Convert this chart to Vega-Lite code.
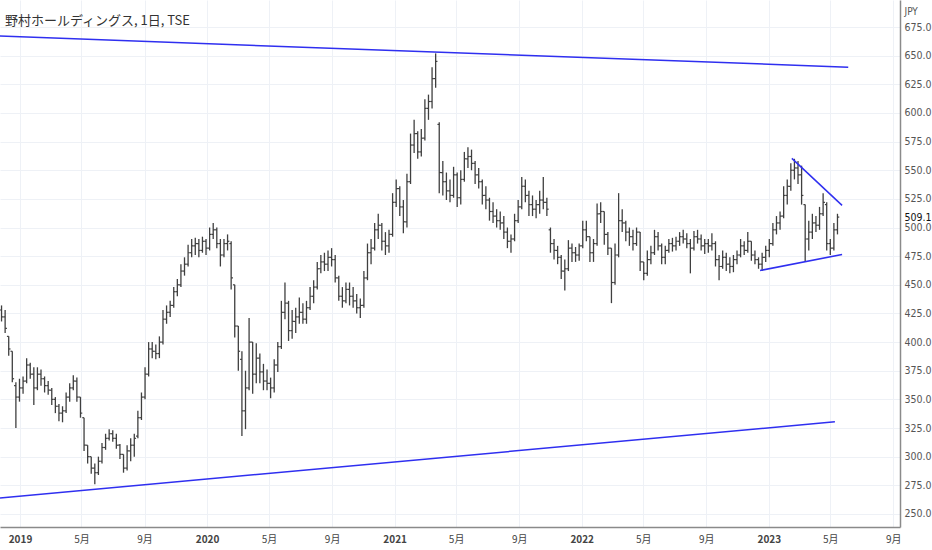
{
  "$schema": "https://vega.github.io/schema/vega-lite/v6.json",
  "description": "野村ホールディングス 日足 (TSE) with trend lines",
  "width": 900,
  "height": 527,
  "autosize": {"type": "none"},
  "padding": {"left": 0, "top": 0, "right": 32, "bottom": 23},
  "background": "white",
  "config": {"view": {"stroke": null}},
  "title": {
    "text": "野村ホールディングス, 1日, TSE",
    "anchor": "start",
    "frame": "group",
    "offset": -38,
    "dx": 5,
    "baseline": "alphabetic",
    "font": "Noto Sans CJK JP",
    "fontSize": 13,
    "fontWeight": "normal",
    "color": "#333333"
  },
  "resolve": {"scale": {"x": "shared", "y": "shared"}, "axis": {"x": "independent", "y": "independent"}},
  "datasets": {
    "px": [
      {"d":"2018-11-26","o":428,"h":432,"l":418,"c":422},
      {"d":"2018-12-03","o":422,"h":428,"l":408,"c":412},
      {"d":"2018-12-10","o":405,"h":405,"l":388,"c":394},
      {"d":"2018-12-17","o":392,"h":392,"l":365,"c":368},
      {"d":"2018-12-24","o":362,"h":365,"l":325,"c":352},
      {"d":"2018-12-31","o":352,"h":368,"l":348,"c":360},
      {"d":"2019-01-07","o":360,"h":370,"l":355,"c":366},
      {"d":"2019-01-14","o":366,"h":386,"l":364,"c":380},
      {"d":"2019-01-21","o":380,"h":382,"l":368,"c":372},
      {"d":"2019-01-28","o":372,"h":378,"l":345,"c":360},
      {"d":"2019-02-04","o":360,"h":378,"l":358,"c":372},
      {"d":"2019-02-11","o":372,"h":376,"l":362,"c":368},
      {"d":"2019-02-18","o":368,"h":370,"l":356,"c":362},
      {"d":"2019-02-25","o":362,"h":366,"l":354,"c":358},
      {"d":"2019-03-04","o":358,"h":360,"l":345,"c":350},
      {"d":"2019-03-11","o":350,"h":352,"l":338,"c":344},
      {"d":"2019-03-18","o":344,"h":346,"l":331,"c":338},
      {"d":"2019-03-25","o":338,"h":344,"l":330,"c":340},
      {"d":"2019-04-01","o":340,"h":356,"l":338,"c":352},
      {"d":"2019-04-08","o":352,"h":364,"l":348,"c":360},
      {"d":"2019-04-15","o":360,"h":371,"l":358,"c":366},
      {"d":"2019-04-22","o":366,"h":369,"l":348,"c":352},
      {"d":"2019-04-29","o":352,"h":352,"l":334,"c":338},
      {"d":"2019-05-06","o":334,"h":334,"l":305,"c":310},
      {"d":"2019-05-13","o":310,"h":310,"l":294,"c":300},
      {"d":"2019-05-20","o":300,"h":300,"l":285,"c":290},
      {"d":"2019-05-27","o":290,"h":294,"l":276,"c":286},
      {"d":"2019-06-03","o":286,"h":300,"l":284,"c":296},
      {"d":"2019-06-10","o":296,"h":312,"l":294,"c":308},
      {"d":"2019-06-17","o":308,"h":320,"l":306,"c":316},
      {"d":"2019-06-24","o":316,"h":324,"l":314,"c":320},
      {"d":"2019-07-01","o":320,"h":323,"l":313,"c":316},
      {"d":"2019-07-08","o":316,"h":320,"l":307,"c":310},
      {"d":"2019-07-15","o":310,"h":311,"l":298,"c":302},
      {"d":"2019-07-22","o":302,"h":302,"l":286,"c":290},
      {"d":"2019-07-29","o":290,"h":310,"l":288,"c":305},
      {"d":"2019-08-05","o":305,"h":316,"l":296,"c":310},
      {"d":"2019-08-12","o":310,"h":320,"l":300,"c":316},
      {"d":"2019-08-19","o":318,"h":340,"l":316,"c":334},
      {"d":"2019-08-26","o":334,"h":356,"l":332,"c":352},
      {"d":"2019-09-02","o":352,"h":378,"l":350,"c":372},
      {"d":"2019-09-09","o":372,"h":400,"l":370,"c":394},
      {"d":"2019-09-16","o":394,"h":400,"l":386,"c":392},
      {"d":"2019-09-23","o":392,"h":398,"l":385,"c":390},
      {"d":"2019-09-30","o":390,"h":405,"l":386,"c":400},
      {"d":"2019-10-07","o":400,"h":428,"l":398,"c":420},
      {"d":"2019-10-14","o":420,"h":432,"l":416,"c":426},
      {"d":"2019-10-21","o":426,"h":436,"l":422,"c":432},
      {"d":"2019-10-28","o":432,"h":448,"l":430,"c":444},
      {"d":"2019-11-04","o":444,"h":455,"l":440,"c":450},
      {"d":"2019-11-11","o":450,"h":468,"l":448,"c":462},
      {"d":"2019-11-18","o":462,"h":474,"l":458,"c":468},
      {"d":"2019-11-25","o":468,"h":485,"l":466,"c":478},
      {"d":"2019-12-02","o":478,"h":490,"l":474,"c":484},
      {"d":"2019-12-09","o":484,"h":491,"l":476,"c":486},
      {"d":"2019-12-16","o":486,"h":490,"l":474,"c":480},
      {"d":"2019-12-23","o":480,"h":492,"l":478,"c":488},
      {"d":"2019-12-30","o":488,"h":490,"l":476,"c":482},
      {"d":"2020-01-06","o":482,"h":500,"l":480,"c":494},
      {"d":"2020-01-13","o":494,"h":504,"l":490,"c":498},
      {"d":"2020-01-20","o":498,"h":500,"l":482,"c":486},
      {"d":"2020-01-27","o":486,"h":490,"l":466,"c":476},
      {"d":"2020-02-03","o":476,"h":490,"l":474,"c":486},
      {"d":"2020-02-10","o":486,"h":494,"l":480,"c":488},
      {"d":"2020-02-17","o":486,"h":488,"l":446,"c":456},
      {"d":"2020-02-24","o":450,"h":450,"l":404,"c":414},
      {"d":"2020-03-02","o":414,"h":414,"l":375,"c":392},
      {"d":"2020-03-09","o":385,"h":392,"l":318,"c":340},
      {"d":"2020-03-16","o":340,"h":375,"l":324,"c":360},
      {"d":"2020-03-23","o":360,"h":421,"l":358,"c":400},
      {"d":"2020-03-30","o":400,"h":400,"l":355,"c":372},
      {"d":"2020-04-06","o":372,"h":399,"l":364,"c":386},
      {"d":"2020-04-13","o":386,"h":390,"l":364,"c":374},
      {"d":"2020-04-20","o":374,"h":381,"l":358,"c":366},
      {"d":"2020-04-27","o":366,"h":376,"l":358,"c":364},
      {"d":"2020-05-04","o":364,"h":369,"l":351,"c":360},
      {"d":"2020-05-11","o":360,"h":385,"l":356,"c":380},
      {"d":"2020-05-18","o":380,"h":400,"l":374,"c":396},
      {"d":"2020-05-25","o":396,"h":436,"l":394,"c":426},
      {"d":"2020-06-01","o":426,"h":452,"l":420,"c":434},
      {"d":"2020-06-08","o":434,"h":436,"l":401,"c":410},
      {"d":"2020-06-15","o":410,"h":428,"l":403,"c":418},
      {"d":"2020-06-22","o":418,"h":430,"l":408,"c":422},
      {"d":"2020-06-29","o":422,"h":439,"l":416,"c":426},
      {"d":"2020-07-06","o":426,"h":434,"l":416,"c":420},
      {"d":"2020-07-13","o":420,"h":436,"l":416,"c":430},
      {"d":"2020-07-20","o":430,"h":448,"l":428,"c":440},
      {"d":"2020-07-27","o":440,"h":454,"l":434,"c":448},
      {"d":"2020-08-03","o":448,"h":470,"l":446,"c":464},
      {"d":"2020-08-10","o":464,"h":476,"l":460,"c":470},
      {"d":"2020-08-17","o":470,"h":478,"l":462,"c":468},
      {"d":"2020-08-24","o":468,"h":480,"l":462,"c":474},
      {"d":"2020-08-31","o":474,"h":482,"l":466,"c":472},
      {"d":"2020-09-07","o":472,"h":476,"l":452,"c":456},
      {"d":"2020-09-14","o":456,"h":458,"l":436,"c":440},
      {"d":"2020-09-21","o":440,"h":448,"l":430,"c":436},
      {"d":"2020-09-28","o":436,"h":452,"l":434,"c":446},
      {"d":"2020-10-05","o":446,"h":452,"l":432,"c":440},
      {"d":"2020-10-12","o":440,"h":448,"l":430,"c":436},
      {"d":"2020-10-19","o":436,"h":442,"l":425,"c":430},
      {"d":"2020-10-26","o":430,"h":438,"l":421,"c":432},
      {"d":"2020-11-02","o":432,"h":462,"l":430,"c":456},
      {"d":"2020-11-09","o":456,"h":486,"l":454,"c":478},
      {"d":"2020-11-16","o":478,"h":490,"l":468,"c":482},
      {"d":"2020-11-23","o":482,"h":504,"l":480,"c":498},
      {"d":"2020-11-30","o":498,"h":512,"l":490,"c":502},
      {"d":"2020-12-07","o":502,"h":504,"l":480,"c":488},
      {"d":"2020-12-14","o":488,"h":496,"l":476,"c":484},
      {"d":"2020-12-21","o":484,"h":498,"l":478,"c":494},
      {"d":"2020-12-28","o":494,"h":530,"l":492,"c":522},
      {"d":"2021-01-04","o":522,"h":542,"l":518,"c":534},
      {"d":"2021-01-11","o":534,"h":536,"l":510,"c":518},
      {"d":"2021-01-18","o":518,"h":524,"l":495,"c":505},
      {"d":"2021-01-25","o":505,"h":547,"l":500,"c":540},
      {"d":"2021-02-01","o":540,"h":582,"l":538,"c":572},
      {"d":"2021-02-08","o":572,"h":594,"l":565,"c":582},
      {"d":"2021-02-15","o":582,"h":584,"l":560,"c":566},
      {"d":"2021-02-22","o":566,"h":586,"l":562,"c":578},
      {"d":"2021-03-01","o":578,"h":612,"l":576,"c":604},
      {"d":"2021-03-08","o":604,"h":616,"l":594,"c":610},
      {"d":"2021-03-15","o":610,"h":640,"l":604,"c":630},
      {"d":"2021-03-22","o":630,"h":652,"l":622,"c":645},
      {"d":"2021-03-29","o":590,"h":592,"l":530,"c":548},
      {"d":"2021-04-05","o":548,"h":558,"l":528,"c":540},
      {"d":"2021-04-12","o":540,"h":548,"l":524,"c":532},
      {"d":"2021-04-19","o":532,"h":542,"l":522,"c":528},
      {"d":"2021-04-26","o":528,"h":553,"l":526,"c":546},
      {"d":"2021-05-03","o":546,"h":548,"l":518,"c":526},
      {"d":"2021-05-10","o":526,"h":550,"l":520,"c":542},
      {"d":"2021-05-17","o":542,"h":566,"l":540,"c":560},
      {"d":"2021-05-24","o":560,"h":570,"l":552,"c":562},
      {"d":"2021-05-31","o":562,"h":568,"l":550,"c":556},
      {"d":"2021-06-07","o":556,"h":558,"l":538,"c":546},
      {"d":"2021-06-14","o":546,"h":552,"l":534,"c":540},
      {"d":"2021-06-21","o":540,"h":542,"l":520,"c":528},
      {"d":"2021-06-28","o":528,"h":536,"l":516,"c":524},
      {"d":"2021-07-05","o":524,"h":526,"l":506,"c":514},
      {"d":"2021-07-12","o":514,"h":522,"l":504,"c":510},
      {"d":"2021-07-19","o":510,"h":516,"l":500,"c":506},
      {"d":"2021-07-26","o":506,"h":514,"l":498,"c":504},
      {"d":"2021-08-02","o":504,"h":510,"l":490,"c":496},
      {"d":"2021-08-09","o":496,"h":500,"l":482,"c":488},
      {"d":"2021-08-16","o":488,"h":494,"l":478,"c":490},
      {"d":"2021-08-23","o":490,"h":512,"l":488,"c":506},
      {"d":"2021-08-30","o":506,"h":524,"l":504,"c":518},
      {"d":"2021-09-06","o":518,"h":544,"l":516,"c":536},
      {"d":"2021-09-13","o":536,"h":542,"l":522,"c":528},
      {"d":"2021-09-20","o":528,"h":532,"l":510,"c":520},
      {"d":"2021-09-27","o":520,"h":528,"l":510,"c":516},
      {"d":"2021-10-04","o":516,"h":524,"l":508,"c":520},
      {"d":"2021-10-11","o":520,"h":532,"l":512,"c":524},
      {"d":"2021-10-18","o":524,"h":544,"l":516,"c":522},
      {"d":"2021-10-25","o":522,"h":526,"l":510,"c":516},
      {"d":"2021-11-01","o":498,"h":500,"l":478,"c":486},
      {"d":"2021-11-08","o":486,"h":490,"l":472,"c":480},
      {"d":"2021-11-15","o":480,"h":484,"l":468,"c":474},
      {"d":"2021-11-22","o":474,"h":476,"l":455,"c":462},
      {"d":"2021-11-29","o":462,"h":472,"l":445,"c":464},
      {"d":"2021-12-06","o":464,"h":489,"l":462,"c":482},
      {"d":"2021-12-13","o":482,"h":486,"l":470,"c":478},
      {"d":"2021-12-20","o":478,"h":483,"l":470,"c":476},
      {"d":"2021-12-27","o":476,"h":486,"l":471,"c":484},
      {"d":"2022-01-03","o":484,"h":506,"l":482,"c":498},
      {"d":"2022-01-10","o":498,"h":506,"l":488,"c":492},
      {"d":"2022-01-17","o":492,"h":492,"l":470,"c":478},
      {"d":"2022-01-24","o":478,"h":490,"l":470,"c":486},
      {"d":"2022-01-31","o":486,"h":521,"l":484,"c":512},
      {"d":"2022-02-07","o":512,"h":522,"l":504,"c":514},
      {"d":"2022-02-14","o":514,"h":514,"l":485,"c":494},
      {"d":"2022-02-21","o":494,"h":496,"l":476,"c":482},
      {"d":"2022-02-28","o":482,"h":482,"l":434,"c":452},
      {"d":"2022-03-07","o":452,"h":486,"l":450,"c":476},
      {"d":"2022-03-14","o":476,"h":530,"l":474,"c":506},
      {"d":"2022-03-21","o":506,"h":516,"l":496,"c":504},
      {"d":"2022-03-28","o":504,"h":506,"l":488,"c":496},
      {"d":"2022-04-04","o":496,"h":500,"l":484,"c":492},
      {"d":"2022-04-11","o":492,"h":498,"l":480,"c":486},
      {"d":"2022-04-18","o":486,"h":500,"l":484,"c":496},
      {"d":"2022-04-25","o":496,"h":496,"l":462,"c":470},
      {"d":"2022-05-02","o":470,"h":470,"l":454,"c":460},
      {"d":"2022-05-09","o":460,"h":480,"l":458,"c":472},
      {"d":"2022-05-16","o":472,"h":484,"l":468,"c":478},
      {"d":"2022-05-23","o":478,"h":498,"l":476,"c":492},
      {"d":"2022-05-30","o":492,"h":496,"l":480,"c":484},
      {"d":"2022-06-06","o":484,"h":486,"l":468,"c":474},
      {"d":"2022-06-13","o":474,"h":484,"l":468,"c":480},
      {"d":"2022-06-20","o":480,"h":490,"l":478,"c":486},
      {"d":"2022-06-27","o":486,"h":491,"l":479,"c":484},
      {"d":"2022-07-04","o":484,"h":492,"l":480,"c":488},
      {"d":"2022-07-11","o":488,"h":496,"l":484,"c":492},
      {"d":"2022-07-18","o":492,"h":498,"l":486,"c":490},
      {"d":"2022-07-25","o":490,"h":495,"l":482,"c":486},
      {"d":"2022-08-01","o":486,"h":490,"l":460,"c":482},
      {"d":"2022-08-08","o":482,"h":497,"l":480,"c":492},
      {"d":"2022-08-15","o":492,"h":498,"l":486,"c":490},
      {"d":"2022-08-22","o":490,"h":494,"l":480,"c":484},
      {"d":"2022-08-29","o":484,"h":490,"l":477,"c":486},
      {"d":"2022-09-05","o":486,"h":490,"l":478,"c":484},
      {"d":"2022-09-12","o":484,"h":495,"l":480,"c":486},
      {"d":"2022-09-19","o":486,"h":488,"l":466,"c":472},
      {"d":"2022-09-26","o":472,"h":476,"l":454,"c":466},
      {"d":"2022-10-03","o":466,"h":480,"l":464,"c":474},
      {"d":"2022-10-10","o":474,"h":478,"l":462,"c":468},
      {"d":"2022-10-17","o":468,"h":474,"l":460,"c":466},
      {"d":"2022-10-24","o":466,"h":476,"l":461,"c":472},
      {"d":"2022-10-31","o":472,"h":480,"l":468,"c":476},
      {"d":"2022-11-07","o":476,"h":490,"l":474,"c":484},
      {"d":"2022-11-14","o":484,"h":488,"l":476,"c":480},
      {"d":"2022-11-21","o":480,"h":496,"l":478,"c":488},
      {"d":"2022-11-28","o":488,"h":488,"l":471,"c":476},
      {"d":"2022-12-05","o":476,"h":480,"l":468,"c":472},
      {"d":"2022-12-12","o":472,"h":474,"l":464,"c":468},
      {"d":"2022-12-19","o":468,"h":478,"l":462,"c":474},
      {"d":"2022-12-26","o":474,"h":484,"l":470,"c":480},
      {"d":"2023-01-02","o":480,"h":490,"l":474,"c":486},
      {"d":"2023-01-09","o":486,"h":504,"l":484,"c":498},
      {"d":"2023-01-16","o":498,"h":510,"l":494,"c":504},
      {"d":"2023-01-23","o":504,"h":514,"l":498,"c":510},
      {"d":"2023-01-30","o":510,"h":536,"l":508,"c":528},
      {"d":"2023-02-06","o":528,"h":542,"l":520,"c":536},
      {"d":"2023-02-13","o":536,"h":556,"l":532,"c":550},
      {"d":"2023-02-20","o":550,"h":560,"l":542,"c":552},
      {"d":"2023-02-27","o":552,"h":558,"l":538,"c":546},
      {"d":"2023-03-06","o":546,"h":554,"l":520,"c":528},
      {"d":"2023-03-13","o":520,"h":520,"l":470,"c":490},
      {"d":"2023-03-20","o":490,"h":506,"l":480,"c":496},
      {"d":"2023-03-27","o":496,"h":512,"l":490,"c":504},
      {"d":"2023-04-03","o":504,"h":510,"l":496,"c":502},
      {"d":"2023-04-10","o":502,"h":518,"l":498,"c":512},
      {"d":"2023-04-17","o":512,"h":530,"l":510,"c":522},
      {"d":"2023-04-24","o":520,"h":522,"l":480,"c":486},
      {"d":"2023-05-01","o":486,"h":490,"l":476,"c":482},
      {"d":"2023-05-08","o":482,"h":504,"l":480,"c":498},
      {"d":"2023-05-15","o":498,"h":512,"l":494,"c":509.1}
    ],
    "tl": [
      {"id":"top","d":"2018-11-23","p":667.1},
      {"id":"top","d":"2023-06-05","p":640.0},
      {"id":"bottom","d":"2018-11-23","p":264.0},
      {"id":"bottom","d":"2023-05-10","p":330.4},
      {"id":"tri_high","d":"2023-02-15","p":560.4},
      {"id":"tri_high","d":"2023-05-24","p":519.3},
      {"id":"tri_low","d":"2022-12-15","p":462.5},
      {"id":"tri_low","d":"2023-05-24","p":476.5}
    ]
  },
  "layer": [
    {
      "data": {"name": "px"},
      "mark": {"type": "rule", "color": "#3f3f3f", "strokeWidth": 1.3},
      "encoding": {
        "x": {
          "field": "d",
          "type": "temporal",
          "scale": {
            "type": "utc",
            "nice": false,
            "domain": [
              {"year": 2018, "month": 11, "date": 23, "utc": true},
              {"year": 2023, "month": 9, "date": 14, "utc": true}
            ]
          },
          "axis": {
            "title": null,
            "orient": "bottom",
            "values": [
              {"year": 2019, "month": 1, "date": 1, "utc": true},
              {"year": 2019, "month": 5, "date": 1, "utc": true},
              {"year": 2019, "month": 9, "date": 1, "utc": true},
              {"year": 2020, "month": 1, "date": 1, "utc": true},
              {"year": 2020, "month": 5, "date": 1, "utc": true},
              {"year": 2020, "month": 9, "date": 1, "utc": true},
              {"year": 2021, "month": 1, "date": 1, "utc": true},
              {"year": 2021, "month": 5, "date": 1, "utc": true},
              {"year": 2021, "month": 9, "date": 1, "utc": true},
              {"year": 2022, "month": 1, "date": 1, "utc": true},
              {"year": 2022, "month": 5, "date": 1, "utc": true},
              {"year": 2022, "month": 9, "date": 1, "utc": true},
              {"year": 2023, "month": 1, "date": 1, "utc": true},
              {"year": 2023, "month": 5, "date": 1, "utc": true},
              {"year": 2023, "month": 9, "date": 1, "utc": true}
            ],
            "labelExpr": "utcmonth(datum.value) == 0 ? utcFormat(datum.value, '%Y') : (utcmonth(datum.value) + 1) + '月'",
            "labelFontWeight": {"condition": {"test": "utcmonth(datum.value) == 0", "value": "bold"}, "value": "normal"},
            "labelFont": "Noto Sans CJK JP",
            "labelFontSize": 10,
            "labelColor": "#444444",
            "labelPadding": 7,
            "labelOverlap": false,
            "grid": true,
            "gridColor": "#eef1f6",
            "ticks": false,
            "domainColor": "#8a8a8a",
            "domainWidth": 1.5
          }
        },
        "y": {
          "field": "l",
          "type": "quantitative",
          "scale": {"domain": [238.6, 698.6], "nice": false, "zero": false},
          "axis": {
            "orient": "right",
            "values": [250, 275, 300, 325, 350, 375, 400, 425, 450, 475, 500, 509.1, 525, 550, 575, 600, 625, 650, 675],
            "format": ".1f",
            "labelFont": "Liberation Sans Narrow, DejaVu Sans Condensed, Roboto Condensed, sans-serif",
            "labelFontSize": 10.5,
            "labelColor": {"condition": {"test": "datum.value == 509.1", "value": "#111111"}, "value": "#555555"},
            "labelPadding": 4,
            "labelOverlap": false,
            "grid": true,
            "gridColor": "#eef1f6",
            "gridOpacity": {"condition": {"test": "datum.value == 509.1", "value": 0}, "value": 1},
            "ticks": false,
            "domainColor": "#8a8a8a",
            "domainWidth": 1.5,
            "title": "JPY",
            "titleAngle": 0,
            "titleX": 4,
            "titleY": 11,
            "titleAlign": "left",
            "titleBaseline": "middle",
            "titleFont": "Liberation Sans Narrow, DejaVu Sans Condensed, sans-serif",
            "titleFontSize": 10,
            "titleFontWeight": "normal",
            "titleColor": "#555555"
          }
        },
        "y2": {"field": "h"}
      }
    },
    {
      "data": {"name": "px"},
      "mark": {"type": "rule", "color": "#3f3f3f", "strokeWidth": 1.2, "xOffset": -1.8, "x2Offset": 0},
      "encoding": {
        "x": {"field": "d", "type": "temporal", "axis": null},
        "x2": {"field": "d"},
        "y": {"field": "o", "type": "quantitative", "axis": null}
      }
    },
    {
      "data": {"name": "px"},
      "mark": {"type": "rule", "color": "#3f3f3f", "strokeWidth": 1.2, "xOffset": 0, "x2Offset": 1.8},
      "encoding": {
        "x": {"field": "d", "type": "temporal", "axis": null},
        "x2": {"field": "d"},
        "y": {"field": "c", "type": "quantitative", "axis": null}
      }
    },
    {
      "data": {"name": "tl"},
      "mark": {"type": "line", "color": "#2f2ff0", "strokeWidth": 1.5},
      "encoding": {
        "x": {"field": "d", "type": "temporal", "axis": null},
        "y": {"field": "p", "type": "quantitative", "axis": null},
        "detail": {"field": "id"}
      }
    }
  ]
}
